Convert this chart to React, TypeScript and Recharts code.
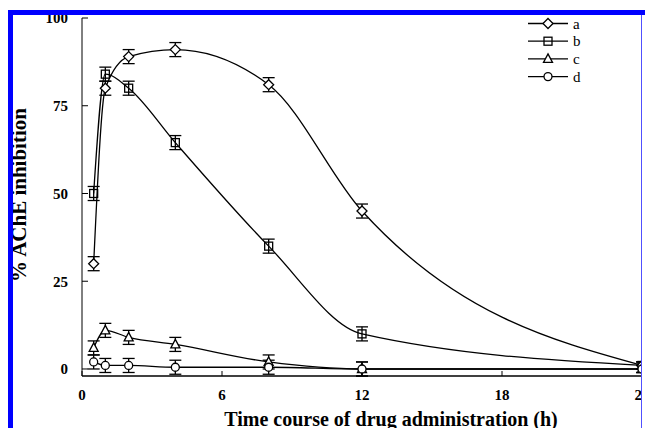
import React from 'react';
import { ComposedChart, Line, XAxis, YAxis, ErrorBar, Customized, Label } from 'recharts';

const times = [0.5, 1, 2, 4, 8, 12, 24];
const seriesA = [30, 80, 89, 91, 81, 45, 1];
const seriesB = [50, 84, 80, 64.5, 35, 10, 1];
const seriesC = [6, 11, 9, 7, 2, 0, 0];
const seriesD = [2, 1, 1, 0.5, 0.5, 0, 0];
const errA = [2, 2, 2, 2, 2, 2, 1];
const errB = [2, 2, 2, 2, 2, 2, 1];
const errC = [2, 2, 2, 2, 2, 2, 1];
const errD = [2, 2, 2, 2, 2, 2, 1];
const seriesNames = ['a', 'b', 'c', 'd'];
const seriesShapes = ['diamond', 'square', 'triangle', 'circle'];
const xTicks = [0, 6, 12, 18, 24];
const yTicks = [0, 25, 50, 75, 100];
const xTitle = 'Time course of drug administration (h)';
const yTitle = '% AChE inhibition';

const data = times.map((t, i) => ({
  t,
  a: seriesA[i],
  b: seriesB[i],
  c: seriesC[i],
  d: seriesD[i],
  aErr: errA[i],
  bErr: errB[i],
  cErr: errC[i],
  dErr: errD[i],
}));

const FONT = '"Liberation Serif", "Times New Roman", serif';

function marker(shape: string, cx: number, cy: number) {
  const common = { stroke: '#000', strokeWidth: 1.3 };
  switch (shape) {
    case 'diamond':
      return (
        <polygon
          points={`${cx},${cy - 5} ${cx + 5},${cy} ${cx},${cy + 5} ${cx - 5},${cy}`}
          fill="#fff"
          {...common}
        />
      );
    case 'square':
      return <rect x={cx - 4} y={cy - 4} width={8} height={8} fill="none" {...common} />;
    case 'triangle':
      return (
        <polygon
          points={`${cx},${cy - 5} ${cx + 4.5},${cy + 3.5} ${cx - 4.5},${cy + 3.5}`}
          fill="#fff"
          {...common}
        />
      );
    default:
      return <circle cx={cx} cy={cy} r={4} fill="#fff" {...common} />;
  }
}

const makeDot = (shape: string) => (props: any) => {
  const { cx, cy, index } = props;
  if (cx == null || cy == null) return <g key={`${shape}-${index}`} />;
  return <g key={`${shape}-${index}`}>{marker(shape, cx, cy)}</g>;
};

const LegendBox = () => (
  <g className="legend">
    {seriesNames.map((name, i) => {
      const y = 23.5 + i * 17.7;
      return (
        <g key={name}>
          <line x1={528} x2={568} y1={y} y2={y} stroke="#000" strokeWidth={1.3} />
          {marker(seriesShapes[i], 548, y)}
          <text x={573} y={y + 5} fontFamily={FONT} fontSize={15} fill="#000">
            {name}
          </text>
        </g>
      );
    })}
  </g>
);

const tickStyle = { fontFamily: FONT, fontSize: 15, fontWeight: 'bold', fill: '#000' };

export default function App() {
  const keys = ['a', 'b', 'c', 'd'];
  return (
    <div style={{ position: 'absolute', left: 0, top: 0, width: 645, height: 428, background: '#fff', overflow: 'hidden' }}>
      <ComposedChart width={645} height={428} data={data} margin={{ top: 18, right: 3, bottom: -8, left: 0 }}>
        <XAxis
          type="number"
          dataKey="t"
          domain={[0, 24]}
          ticks={xTicks}
          height={60}
          tickSize={-5}
          tickMargin={18}
          axisLine={{ stroke: '#000', strokeWidth: 1.5 }}
          tickLine={{ stroke: '#000', strokeWidth: 1 }}
          tick={tickStyle}
          interval={0}
        >
          <Label
            content={() => (
              <text x={391} y={426} textAnchor="middle" fontFamily={FONT} fontSize={20} fontWeight="bold" fill="#000">
                {xTitle}
              </text>
            )}
          />
        </XAxis>
        <YAxis
          type="number"
          domain={[0, 100]}
          ticks={yTicks}
          width={82}
          tickSize={-6}
          tickMargin={20}
          axisLine={{ stroke: '#000', strokeWidth: 1 }}
          tickLine={{ stroke: '#000', strokeWidth: 1 }}
          tick={tickStyle}
          interval={0}
        >
          <Label
            content={() => (
              <text
                x={26}
                y={195}
                transform="rotate(-90 26 195)"
                textAnchor="middle"
                fontFamily={FONT}
                fontSize={21}
                fontWeight="bold"
                fill="#000"
              >
                {yTitle}
              </text>
            )}
          />
        </YAxis>
        {keys.map((k, i) => (
          <Line
            key={k}
            dataKey={k}
            name={seriesNames[i]}
            type="monotone"
            stroke="#000"
            strokeWidth={1.3}
            dot={makeDot(seriesShapes[i])}
            activeDot={false}
            isAnimationActive={false}
          >
            <ErrorBar dataKey={`${k}Err`} width={6} stroke="#000" strokeWidth={1.3} direction="y" />
          </Line>
        ))}
        <Customized component={LegendBox} />
      </ComposedChart>
      <div style={{ position: 'absolute', left: 8, top: 10, width: 637, height: 5, background: '#0000ff' }} />
      <div style={{ position: 'absolute', left: 8, top: 10, width: 5, height: 418, background: '#0000ff' }} />
      <div style={{ position: 'absolute', left: 642, top: 15, width: 3, height: 413, background: '#fff' }} />
      <div style={{ position: 'absolute', left: 641, top: 15, width: 1, height: 413, background: '#5050ff' }} />
    </div>
  );
}
